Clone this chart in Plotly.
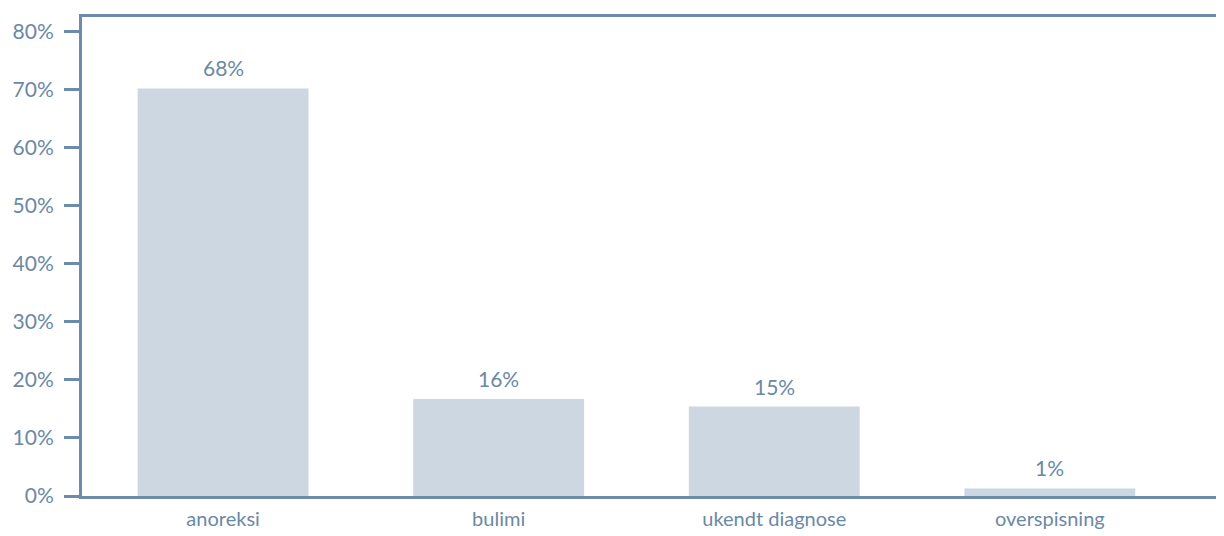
import plotly.graph_objects as go

categories = ["anoreksi", "bulimi", "ukendt diagnose", "overspisning"]
bar_values = [70.2, 16.7, 15.4, 1.3]
value_labels = ["68%", "16%", "15%", "1%"]
tick_vals = [0, 10, 20, 30, 40, 50, 60, 70, 80]
tick_text = ["0%", "10%", "20%", "30%", "40%", "50%", "60%", "70%", "80%"]

axis_color = "#6b8cab"
text_color = "#6a89a6"
bar_color = "#cdd7e1"
font_family = "Lato, 'Open Sans', sans-serif"

fig = go.Figure()
fig.add_trace(go.Bar(
    x=categories,
    y=bar_values,
    marker=dict(color=bar_color, line=dict(width=0)),
    hoverinfo="skip",
))

for cat, val, lab in zip(categories, bar_values, value_labels):
    fig.add_annotation(
        x=cat, y=val, text=lab, showarrow=False,
        yanchor="bottom", yshift=6,
        font=dict(size=21, color=text_color, family=font_family),
    )

fig.update_layout(
    width=1216,
    height=528,
    margin=dict(l=74, r=0, t=9, b=40, autoexpand=False),
    paper_bgcolor="white",
    plot_bgcolor="white",
    bargap=0.38,
    showlegend=False,
    font=dict(family=font_family, color=text_color, size=20),
)

fig.update_xaxes(
    type="category",
    range=[-0.512, 3.632],
    showline=True,
    linecolor=axis_color,
    linewidth=3,
    mirror=True,
    showgrid=False,
    zeroline=False,
    ticks="",
    tickfont=dict(size=20, color=text_color, family=font_family),
    ticklabelstandoff=3,
    layer="below traces",
)

fig.update_yaxes(
    range=[0, 82.5],
    tickvals=tick_vals,
    ticktext=tick_text,
    showline=True,
    linecolor=axis_color,
    linewidth=3,
    showgrid=False,
    zeroline=False,
    ticks="outside",
    ticklen=15,
    tickwidth=3,
    tickcolor=axis_color,
    tickfont=dict(size=21, color=text_color, family=font_family),
    ticklabelstandoff=6,
    layer="below traces",
)

fig.write_html("out.html")
